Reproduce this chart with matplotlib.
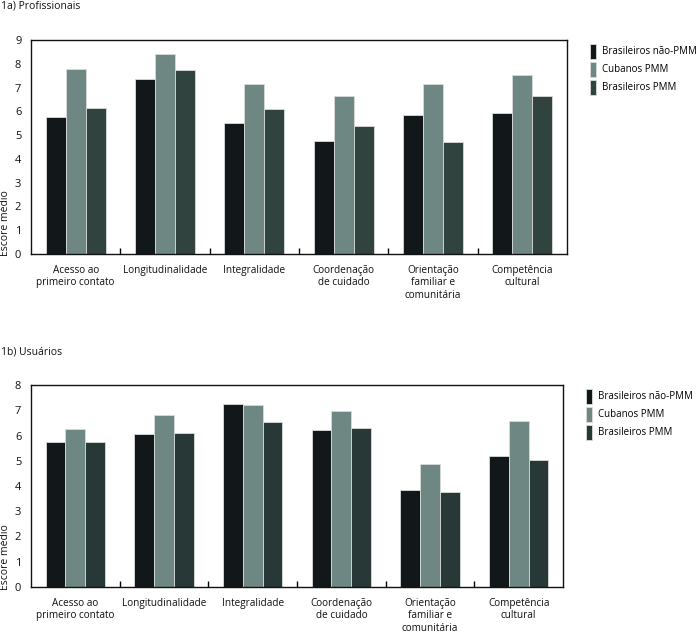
import matplotlib
matplotlib.use("Agg")
import matplotlib.pyplot as plt
from matplotlib.patches import Patch
import numpy as np

plt.rcParams['font.family'] = ['Open Sans', 'DejaVu Sans']

categories = ["Acesso ao\nprimeiro contato", "Longitudinalidade", "Integralidade",
              "Coordenação\nde cuidado", "Orientação\nfamiliar e\ncomunitária", "Competência\ncultural"]
series_names = ["Brasileiros não-PMM", "Cubanos PMM", "Brasileiros PMM"]

prof_nao_pmm = [5.77, 7.35, 5.52, 4.75, 5.84, 5.95]
prof_cubanos = [7.76, 8.42, 7.13, 6.65, 7.17, 7.52]
prof_bras_pmm = [6.12, 7.73, 6.11, 5.38, 4.73, 6.65]

usu_nao_pmm = [5.73, 6.06, 7.25, 6.23, 3.83, 5.18]
usu_cubanos = [6.27, 6.80, 7.22, 6.98, 4.87, 6.59]
usu_bras_pmm = [5.74, 6.11, 6.55, 6.28, 3.75, 5.04]

colors_top = ["#121819", "#6f8783", "#30433f"]
colors_bot = ["#121819", "#6f8783", "#283837"]

W, H = 697, 632
fig = plt.figure(figsize=(W / 100, H / 100), dpi=100)

def px_axes(left, top, right, bottom):
    return fig.add_axes([left / W, 1 - bottom / H, (right - left) / W, (bottom - top) / H])

def draw(ax, series, ymax, title, title_y, colors):
    x = np.arange(len(categories))
    bw = 0.224
    for i, vals in enumerate(series):
        ax.bar(x + (i - 1) * bw, vals, width=bw, color=colors[i],
               edgecolor="#d8dcdb", linewidth=0.6, label=series_names[i])
    ax.set_xlim(-0.5, len(categories) - 0.5)
    ax.set_ylim(0, ymax)
    ax.set_yticks(range(0, ymax + 1))
    ax.tick_params(axis='y', length=0, pad=7, labelsize=8, labelcolor='#111111')
    ax.set_xticks(x)
    ax.set_xticklabels(categories, fontsize=7.2, linespacing=1.15, color='#111111')
    ax.tick_params(axis='x', which='major', length=0, pad=8)
    ax.set_xticks(np.arange(0.5, len(categories) - 1, 1), minor=True)
    ax.tick_params(axis='x', which='minor', direction='in', length=4, width=1, color='black')
    for s in ax.spines.values():
        s.set_linewidth(1.0)
        s.set_color('#111111')
    handles = [Patch(facecolor=colors[i], edgecolor="#d8dcdb", linewidth=0.6) for i in range(3)]
    ax.legend(handles, series_names, loc='upper left', bbox_to_anchor=(1.035, 1.0),
              frameon=False, fontsize=7, handlelength=0.7, handleheight=2.0,
              handletextpad=0.55, labelspacing=0.3, borderaxespad=0)
    fig.text(1 / W, 1 - title_y / H, title, fontsize=7.5, va='top', ha='left', color='#111111')

ax1 = px_axes(31, 40, 567, 254)
draw(ax1, [prof_nao_pmm, prof_cubanos, prof_bras_pmm], 9, "1a) Profissionais", 0, colors_top)
fig.text(0 / W, 1 - 256 / H, "Escore médio", rotation=90, fontsize=7.5, va='bottom', ha='left', color='#111111')

ax2 = px_axes(31, 385, 563, 587)
draw(ax2, [usu_nao_pmm, usu_cubanos, usu_bras_pmm], 8, "1b) Usuários", 346, colors_bot)
fig.text(0 / W, 1 - 590 / H, "Escore médio", rotation=90, fontsize=7.5, va='bottom', ha='left', color='#111111')

fig.savefig("out.png", dpi=100)
